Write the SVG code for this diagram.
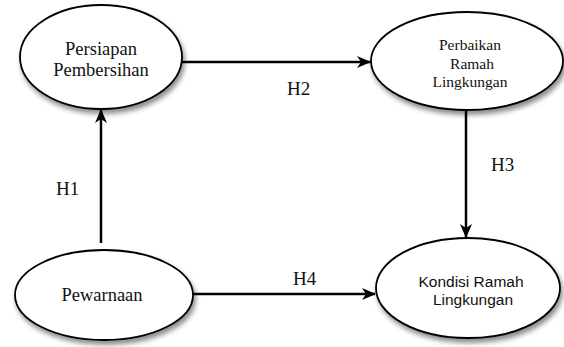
<svg xmlns="http://www.w3.org/2000/svg" width="564" height="347" viewBox="0 0 564 347">
<defs>
<filter id="sh" x="-20%" y="-20%" width="150%" height="160%">
<feDropShadow dx="2" dy="4" stdDeviation="2.5" flood-color="#000" flood-opacity="0.45"/>
</filter>
<marker id="ah" viewBox="0 0 14 12" refX="13" refY="6" markerWidth="14" markerHeight="12" markerUnits="userSpaceOnUse" orient="auto">
<path d="M0,0 L14,6 L0,12 L4,6 Z" fill="#000"/>
</marker>
</defs>
<style>
.node ellipse{fill:#fff;stroke:#000;stroke-width:1.8;filter:url(#sh)}
.serif{font-family:"Liberation Serif","Times New Roman",serif;fill:#111;text-anchor:middle}
.sans{font-family:"Liberation Sans",Arial,sans-serif;fill:#111;text-anchor:middle}
.conn line{stroke:#000;stroke-width:2.5;marker-end:url(#ah)}
.lbl{font-family:"Liberation Serif","Times New Roman",serif;font-size:19px;fill:#111}
</style>
<rect width="564" height="347" fill="#fff"/>
<g id="connectors" class="conn">
<line x1="182" y1="62" x2="370" y2="62"/>
<line x1="101" y1="243" x2="101" y2="110"/>
<line x1="466" y1="111" x2="466" y2="237"/>
<line x1="190" y1="294" x2="375" y2="294"/>
</g>
<g id="labels">
<text class="lbl" x="287" y="95">H2</text>
<text class="lbl" x="56" y="195">H1</text>
<text class="lbl" x="491" y="171">H3</text>
<text class="lbl" x="293" y="285">H4</text>
</g>
<g id="persiapan" class="node">
<ellipse cx="101" cy="57" rx="81" ry="52"/>
<text class="serif" font-size="18.5" x="101" y="55">Persiapan</text>
<text class="serif" font-size="18.5" x="101" y="76">Pembersihan</text>
</g>
<g id="perbaikan" class="node">
<ellipse cx="467" cy="61" rx="96" ry="49"/>
<text class="serif" font-size="15.5" x="470" y="50">Perbaikan</text>
<text class="serif" font-size="15.5" x="472" y="69">Ramah</text>
<text class="serif" font-size="15.5" x="470" y="87">Lingkungan</text>
</g>
<g id="pewarnaan" class="node">
<ellipse cx="104" cy="295" rx="89" ry="45"/>
<text class="serif" font-size="18.5" x="102" y="301">Pewarnaan</text>
</g>
<g id="kondisi" class="node">
<ellipse cx="468" cy="288" rx="92" ry="50"/>
<text class="sans" font-size="15.5" x="471" y="287">Kondisi Ramah</text>
<text class="sans" font-size="15.5" x="473" y="305">Lingkungan</text>
</g>
</svg>
